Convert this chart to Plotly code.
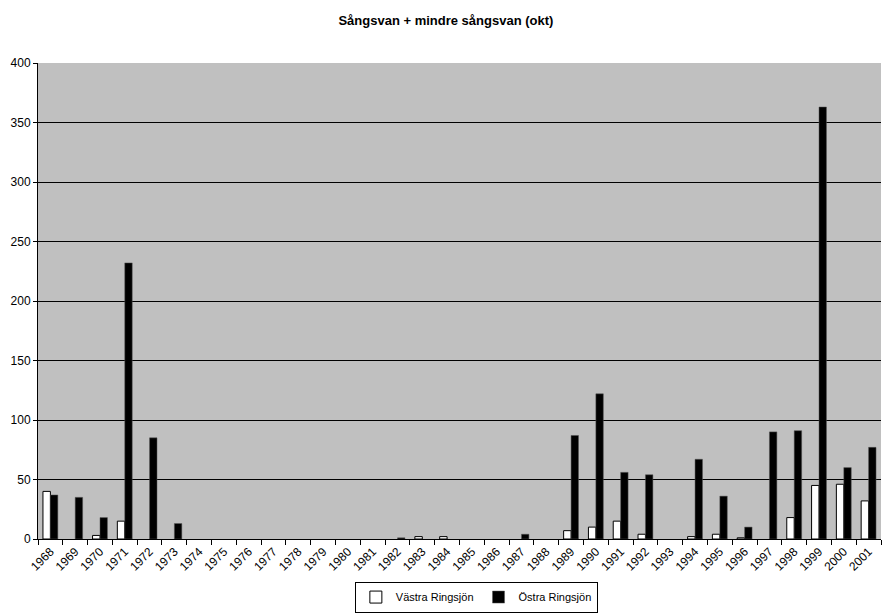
import plotly.graph_objects as go

years = [str(y) for y in range(1968, 2002)]

vastra = [40, 0, 3, 15, 0, 0, 0, 0, 0, 0, 0, 0, 0, 0, 0, 2, 2, 0, 0, 0,
          0, 7, 10, 15, 4, 0, 2, 4, 1, 0, 18, 45, 46, 32]
ostra = [37, 35, 18, 232, 85, 13, 0, 0, 0, 0, 0, 0, 0, 0, 1, 0, 0, 0, 0, 4,
         0, 87, 122, 56, 54, 0, 67, 36, 10, 90, 91, 363, 60, 77]

FONT = "Liberation Sans, Arial, sans-serif"

# empty years get no bar at all (otherwise the outline shows on the axis)
def hide_zero(vals):
    return [v if v else None for v in vals]

fig = go.Figure()
fig.add_trace(go.Bar(x=years, y=hide_zero(vastra), name="Västra Ringsjön",
                     marker=dict(color="white", line=dict(color="black", width=1))))
fig.add_trace(go.Bar(x=years, y=hide_zero(ostra), name="Östra Ringsjön",
                     marker=dict(color="black", line=dict(color="#555555", width=0.5))))

fig.update_layout(
    width=883, height=615,
    barmode="group", bargap=0.4, bargroupgap=0,
    plot_bgcolor="#C0C0C0", paper_bgcolor="white",
    margin=dict(l=38, r=2, t=63, b=70),
    font=dict(family=FONT, size=11, color="black"),
    title=dict(text="<b>Sångsvan + mindre sångsvan (okt)</b>", x=0.505, xanchor="center",
               y=0.966, yanchor="middle", font=dict(size=13)),
    legend=dict(orientation="h", x=0.52, xanchor="center", y=-0.122, yanchor="middle",
                bordercolor="black", borderwidth=1, font=dict(size=11),
                itemwidth=30, tracegroupgap=0),
    showlegend=True,
)
fig.update_xaxes(
    type="category", tickangle=-45, ticks="outside", tickson="boundaries",
    ticklen=5, tickcolor="black", showline=True, linecolor="black",
    showgrid=False, tickfont=dict(size=12), automargin=False,
)
fig.update_yaxes(
    range=[0, 400], dtick=50, ticks="outside", ticklen=4, tickcolor="black",
    showline=True, linecolor="black", gridcolor="black", gridwidth=1,
    zeroline=False, tickfont=dict(size=12), automargin=False,
)

# page has a default 8px body margin; drop it so the figure sits at 0,0
fig.write_html("out.html", config={"displayModeBar": False},
               post_script="document.body.style.margin='0';")
